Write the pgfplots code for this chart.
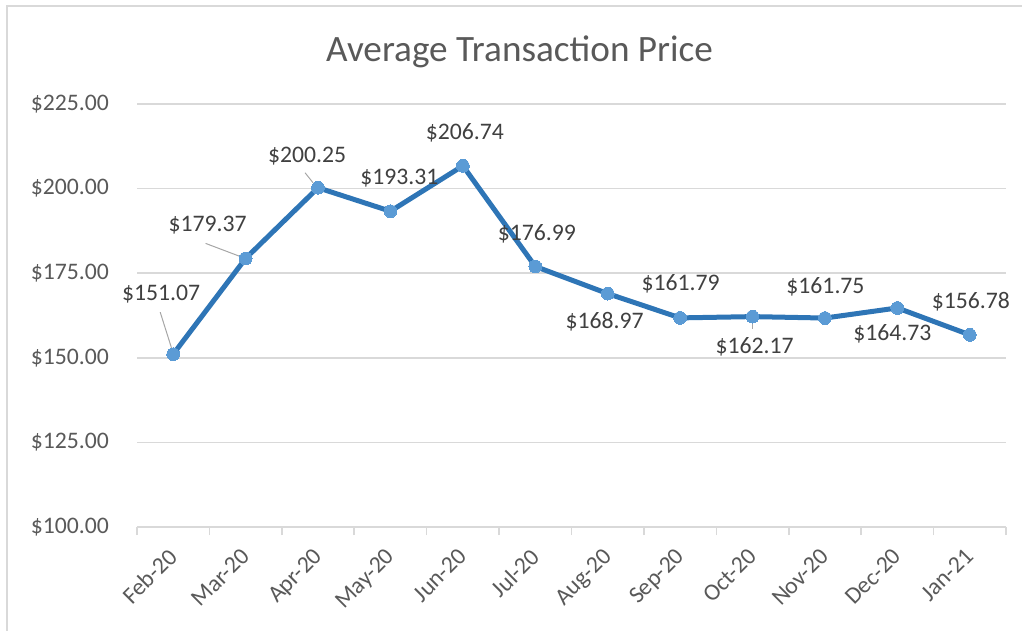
\documentclass[border=0pt]{standalone}
\usepackage{fontspec}
\setmainfont{Carlito}
\usepackage{pgfplots}
\usepackage{pgfplotstable}
\pgfplotsset{compat=1.18}

\definecolor{linecol}{HTML}{2E75B6}
\definecolor{markcol}{HTML}{5B9BD5}
\definecolor{gridcol}{HTML}{D9D9D9}
\definecolor{tickcol}{HTML}{595959}
\definecolor{labcol}{HTML}{404040}

% x, price, label offset from the point (px, y down)
\pgfplotstableread{
x  y       dx   dy
0  151.07  -12  -60
1  179.37  -38  -33
2  200.25  -11  -32
3  193.31   9   -33
4  206.74   2   -33
5  176.99   1.5 -33
6  168.97  -3    28
7  161.79   0.5 -34
8  162.17   2    30
9  161.75   0.5 -31
10 164.73  -5    26
11 156.78   1   -33
}\pricedata

\begin{document}
\begin{tikzpicture}
\useasboundingbox (0,0) rectangle (511pt,315.5pt);
\draw[gridcol, line width=0.8pt] (3.5pt,0) -- (3.5pt,312.5pt) -- (511pt,312.5pt);
\node[text=tickcol, font=\fontsize{18.6}{22}\selectfont] at (259.75pt,289.5pt) {Average Transaction Price};
\begin{axis}[
    at={(68.5pt,52pt)}, anchor=south west,
    scale only axis,
    width=434.5pt, height=211.5pt,
    xmin=-0.5, xmax=11.5,
    ymin=100, ymax=225,
    axis lines*=left,
    y axis line style={draw=none},
    x axis line style={gridcol, line width=0.8pt},
    xtick={0,...,11},
    xticklabels={Feb-20,Mar-20,Apr-20,May-20,Jun-20,Jul-20,Aug-20,Sep-20,Oct-20,Nov-20,Dec-20,Jan-21},
    minor xtick={-0.5,0.5,...,11.5},
    ytick={100,125,...,225},
    yticklabels={\$100.00,\$125.00,\$150.00,\$175.00,\$200.00,\$225.00},
    major tick length=0pt,
    minor tick length=4pt,
    tick align=outside,
    minor x tick style={gridcol, line width=0.8pt},
    ymajorgrids,
    grid style={gridcol, line width=0.8pt},
    tick label style={text=tickcol, font=\fontsize{11.85}{14}\selectfont},
    yticklabel style={anchor=east, xshift=-10.5pt},
    xticklabel style={rotate=45, anchor=north east, inner sep=1pt, xshift=-8pt, yshift=-3.8pt},
    /pgf/number format/assume math mode=true,
    clip=false,
]
% leader lines
\draw[gray!70, line width=0.5pt] ([shift={(-6.5pt,21pt)}]axis cs:0,151.07) -- ([shift={(-0.5pt,2pt)}]axis cs:0,151.07);
\draw[gray!70, line width=0.5pt] ([shift={(-20pt,7.5pt)}]axis cs:1,179.37) -- ([shift={(-1.5pt,0.5pt)}]axis cs:1,179.37);
\draw[gray!70, line width=0.5pt] ([shift={(-6.5pt,7.5pt)}]axis cs:2,200.25) -- ([shift={(-2.5pt,2.5pt)}]axis cs:2,200.25);
\draw[gray!70, line width=0.5pt] ([shift={(0pt,-0.5pt)}]axis cs:8,162.17) -- ([shift={(0pt,-6pt)}]axis cs:8,162.17);
\addplot[
    linecol, line width=2.5pt,
    mark=*, mark size=3.2pt,
    mark options={fill=markcol, draw=markcol, line width=0pt},
    point meta=explicit symbolic,
    visualization depends on={\thisrow{dx} \as \dx},
    visualization depends on={\thisrow{dy} \as \dy},
    nodes near coords={\$\pgfplotspointmeta},
    nodes near coords style={anchor=center, text=labcol,
        font=\fontsize{11.85}{14}\selectfont,
        xshift=0.5*\dx pt, yshift=-0.5*\dy pt},
] table[x=x, y=y, meta=y] {\pricedata};
\end{axis}
\end{tikzpicture}
\end{document}
